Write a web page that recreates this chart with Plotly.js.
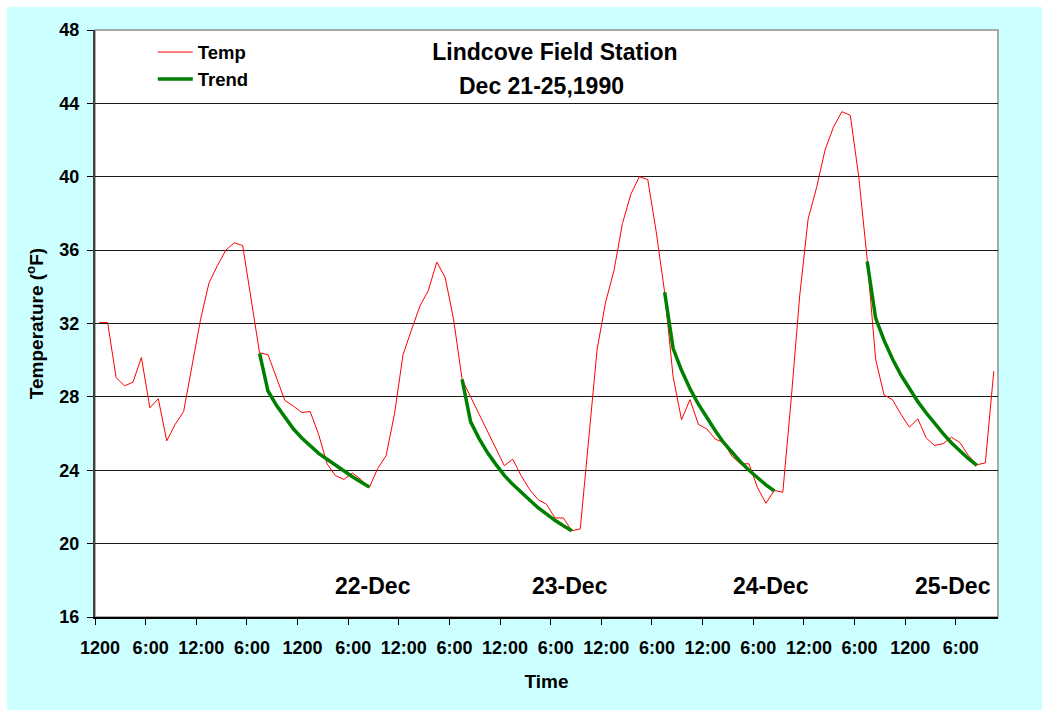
<!DOCTYPE html>
<html>
<head>
<meta charset="utf-8">
<script src="https://cdn.plot.ly/plotly-3.0.1.min.js"></script>
<style>
html,body{margin:0;padding:0;background:#ffffff;}
#chart{width:1049px;height:717px;}
</style>
</head>
<body>
<div id="chart"></div>
<script>
// Hourly temperature readings (°F), one per hour
const temp = [
  32.05, 32.05, 29.05, 28.6, 28.8, 30.15, 27.4, 27.9, 25.6, 26.5,
  27.2, 29.8, 32.2, 34.2, 35.15, 36.0, 36.4, 36.25, 33.3, 30.4,
  30.3, 29.05, 27.8, 27.5, 27.15, 27.2, 25.95, 24.35, 23.7, 23.5,
  23.85, 23.5, 23.05, 24.1, 24.8, 27.1, 30.3, 31.65, 32.95, 33.8,
  35.35, 34.5, 32.2, 28.95, 28.0, 27.1, 26.15, 25.2, 24.25, 24.6,
  23.7, 22.95, 22.4, 22.15, 21.4, 21.4, 20.7, 20.8, 25.7, 30.6,
  33.15, 34.9, 37.45, 39.05, 40.0, 39.85, 37.0, 33.7, 29.1, 26.75,
  27.85, 26.5, 26.25, 25.7, 25.5, 24.75, 24.35, 24.35, 23.05, 22.2,
  22.9, 22.8, 27.9, 33.5, 37.7, 39.4, 41.45, 42.7, 43.55, 43.35,
  40.0, 35.5, 30.05, 28.1, 27.85, 27.05, 26.35, 26.8, 25.75, 25.35,
  25.45, 25.8, 25.5, 24.8, 24.3, 24.4, 29.4
];

// Night-time cooling trend segments: start hour index and values
const trend1Start = 19;
const trend1 = [30.37, 28.32, 27.54, 26.86, 26.26, 25.76, 25.32, 24.92, 24.6, 24.27, 23.96, 23.65, 23.36, 23.09];
const trend2Start = 43;
const trend2 = [28.95, 26.65, 25.74, 24.96, 24.32, 23.72, 23.23, 22.78, 22.38, 21.96, 21.6, 21.27, 20.97, 20.7];
const trend3Start = 67;
const trend3 = [33.7, 30.65, 29.45, 28.45, 27.6, 26.85, 26.15, 25.5, 24.95, 24.45, 24.0, 23.6, 23.2, 22.87];
const trend4Start = 91;
const trend4 = [35.38, 32.29, 31.08, 30.06, 29.19, 28.43, 27.74, 27.12, 26.54, 26.0, 25.49, 25.03, 24.63, 24.27];

const tickLabels = ["1200","6:00","12:00","6:00","1200","6:00","12:00","6:00","12:00","6:00","12:00","6:00","12:00","6:00","12:00","6:00","1200","6:00"];
const dayLabels = ["22-Dec","23-Dec","24-Dec","25-Dec"];
const titleLines = ["Lindcove Field Station","Dec 21-25,1990"];

// build x positions (category centers)
const xs = temp.map((_, i) => i + 0.5);
const trendY = temp.map(() => null);
[[trend1Start, trend1],[trend2Start, trend2],[trend3Start, trend3],[trend4Start, trend4]].forEach(([s, arr]) => {
  arr.forEach((v, k) => { trendY[s + k] = v; });
});
const tickVals = tickLabels.map((_, k) => k * 6);

const FONT = 'Liberation Sans, Arial, Helvetica, sans-serif';

const traces = [
  {x: xs, y: temp, name: 'Temp', type: 'scatter', mode: 'lines',
   line: {color: '#FF0000', width: 1}},
  {x: xs, y: trendY, name: 'Trend', type: 'scatter', mode: 'lines',
   line: {color: '#008000', width: 3.5}, connectgaps: false}
];

const dayX = [32.9, 56.3, 80.1, 101.7];
const annotations = dayLabels.map((t, k) => ({
  text: t, x: dayX[k], y: 17.7, xref: 'x', yref: 'y', showarrow: false,
  xanchor: 'center', yanchor: 'middle',
  font: {family: FONT, size: 23, color: '#000', weight: 700}
}));
annotations.push({
  text: titleLines[1], xref: 'paper', yref: 'paper', x: 0.494, y: 0.904,
  showarrow: false, xanchor: 'center', yanchor: 'middle',
  font: {family: FONT, size: 23, color: '#000', weight: 700}
});

const layout = {
  width: 1049, height: 717,
  paper_bgcolor: '#FFFFFF',
  plot_bgcolor: '#FFFFFF',
  margin: {l: 95, r: 51, t: 30, b: 100, pad: 0},
  title: {text: titleLines[0], x: 555/1049, xanchor: 'center', xref: 'container',
          y: 1 - 52/717, yanchor: 'middle', yref: 'container',
          font: {family: FONT, size: 23, color: '#000', weight: 700}},
  showlegend: true,
  legend: {x: 0.064, y: 0.994, xanchor: 'left', yanchor: 'top', bgcolor: 'rgba(0,0,0,0)',
           font: {family: FONT, size: 18.5, color: '#000', weight: 700}, itemwidth: 35,
           tracegroupgap: 0},
  xaxis: {
    range: [0, 107], tickmode: 'array', tickvals: tickVals, ticktext: tickLabels,
    ticks: 'outside', ticklen: 6, tickcolor: '#000', tickwidth: 1,
    ticklabelshift: 5, ticklabelstandoff: 8,
    showgrid: false, zeroline: false, showline: true, linecolor: '#000', linewidth: 1.5,
    tickfont: {family: FONT, size: 18, color: '#000', weight: 700},
    title: {text: 'Time', standoff: 17, font: {family: FONT, size: 19, color: '#000', weight: 700}},
    fixedrange: true
  },
  yaxis: {
    range: [16, 48], dtick: 4, tick0: 16,
    ticks: 'outside', ticklen: 6, tickcolor: '#000', tickwidth: 1,
    ticklabelstandoff: 4,
    showgrid: true, gridcolor: '#1a1a1a', gridwidth: 1,
    zeroline: false, showline: true, linecolor: '#404040', linewidth: 2,
    tickfont: {family: FONT, size: 18, color: '#000', weight: 700},
    title: {text: 'Temperature (<sup>o</sup>F)', standoff: 11, font: {family: FONT, size: 19, color: '#000', weight: 700}},
    fixedrange: true
  },
  shapes: [
    {type: 'rect', xref: 'paper', yref: 'paper', layer: 'below',
     x0: (7-95)/903, x1: (1042-95)/903, y0: 1-(710-30)/587, y1: 1+(30-7)/587,
     fillcolor: '#CCFFFF', line: {width: 0}},
    {type: 'rect', xref: 'paper', yref: 'paper', layer: 'below',
     x0: 0, x1: 1, y0: 0, y1: 1,
     fillcolor: '#FFFFFF', line: {color: '#909090', width: 1.5}}
  ],
  annotations: annotations
};

Plotly.newPlot('chart', traces, layout, {displayModeBar: false, staticPlot: true});
</script>
</body>
</html>
